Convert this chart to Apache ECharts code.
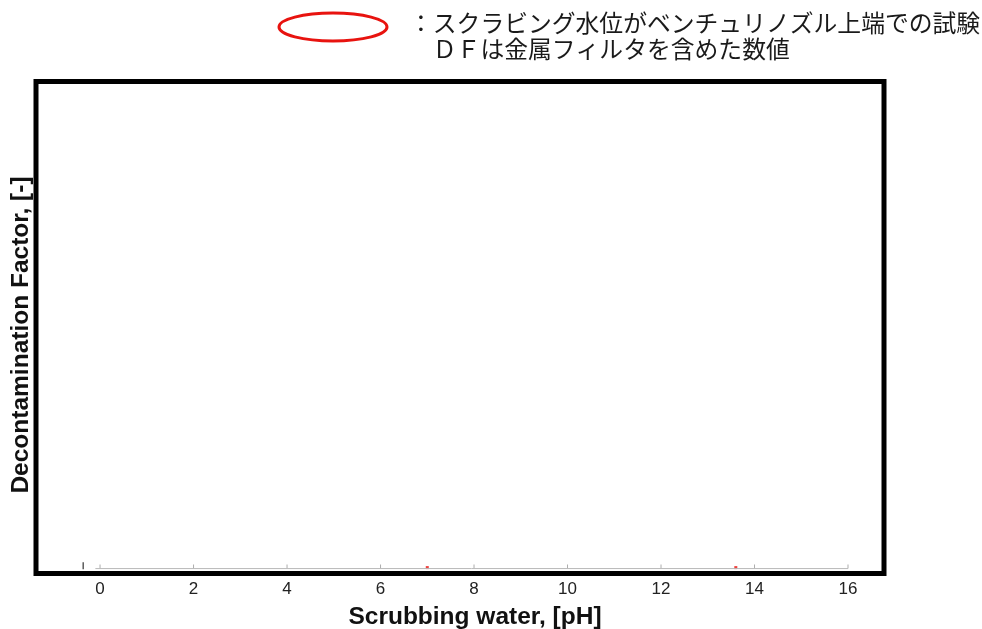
<!DOCTYPE html>
<html>
<head>
<meta charset="utf-8">
<script src="https://cdn.jsdelivr.net/npm/echarts@6/dist/echarts.min.js"></script>
<style>
  html, body { margin: 0; padding: 0; background: #fff; }
  #main { width: 982px; height: 629px; }
</style>
</head>
<body>
<div id="main"></div>
<script>
// x ticks (pH)
var xTicks = [0, 2, 4, 6, 8, 10, 12, 14, 16];
// grey baseline of the inner plot
var baseLine = [[-0.1, 1], [16, 1]];
// measured points (DF squeezed to the bottom of the scale)
var dfPoints = [[7.0, 1.2], [13.6, 1.2]];
// small dark tick near the left
var leftMark = [[-0.36, 1.6]];

var chartDom = document.getElementById('main');
var myChart = echarts.init(chartDom);

var option = {
  animation: false,
  grid: {
    left: 36, right: 98, top: 81.5, bottom: 55.5,
    show: true, borderColor: '#000', borderWidth: 5, backgroundColor: 'transparent'
  },
  xAxis: {
    type: 'value', min: -1.37, max: 16.77,
    axisLine: { show: false },
    axisTick: { show: false },
    splitLine: { show: false },
    axisLabel: {
      customValues: xTicks,
      margin: 7,
      color: '#222',
      fontFamily: 'Liberation Sans, Arial',
      fontSize: 17
    }
  },
  yAxis: {
    type: 'value', min: 0, max: 100,
    axisLine: { show: false },
    axisTick: { show: false },
    axisLabel: { show: false },
    splitLine: { show: false }
  },
  graphic: [
    {
      type: 'ellipse',
      shape: { cx: 333, cy: 27, rx: 54, ry: 14 },
      style: { fill: 'none', stroke: '#e8130f', lineWidth: 3 }
    },
    {
      type: 'text', left: 409, top: 10,
      style: {
        text: '：スクラビング水位がベンチュリノズル上端での試験\n　ＤＦは金属フィルタを含めた数値',
        font: '23.8px "Noto Sans CJK JP"', fill: '#1a1a1a', lineHeight: 26
      }
    },
    {
      type: 'text', x: 475, y: 617,
      style: {
        text: 'Scrubbing water, [pH]',
        font: 'bold 24.5px "Liberation Sans", Arial', fill: '#111',
        align: 'center', verticalAlign: 'middle'
      }
    },
    {
      type: 'text', x: 21, y: 335, rotation: Math.PI / 2,
      style: {
        text: 'Decontamination Factor, [-]',
        font: 'bold 24.5px "Liberation Sans", Arial', fill: '#111',
        align: 'center', verticalAlign: 'middle'
      }
    }
  ],
  series: [
    {
      type: 'line', data: baseLine, symbol: 'none',
      lineStyle: { color: '#b8b8b8', width: 1 }, silent: true
    },
    {
      type: 'scatter', data: xTicks.map(function (v) { return [v, 1.4]; }),
      symbol: 'rect', symbolSize: [1, 4],
      itemStyle: { color: '#999' }, silent: true
    },
    {
      type: 'scatter', data: leftMark, symbol: 'rect', symbolSize: [1.5, 7],
      itemStyle: { color: '#333' }, silent: true
    },
    {
      type: 'scatter', data: dfPoints, symbol: 'rect', symbolSize: 3,
      itemStyle: { color: '#e8130f' }
    }
  ]
};

option && myChart.setOption(option);
</script>
</body>
</html>
